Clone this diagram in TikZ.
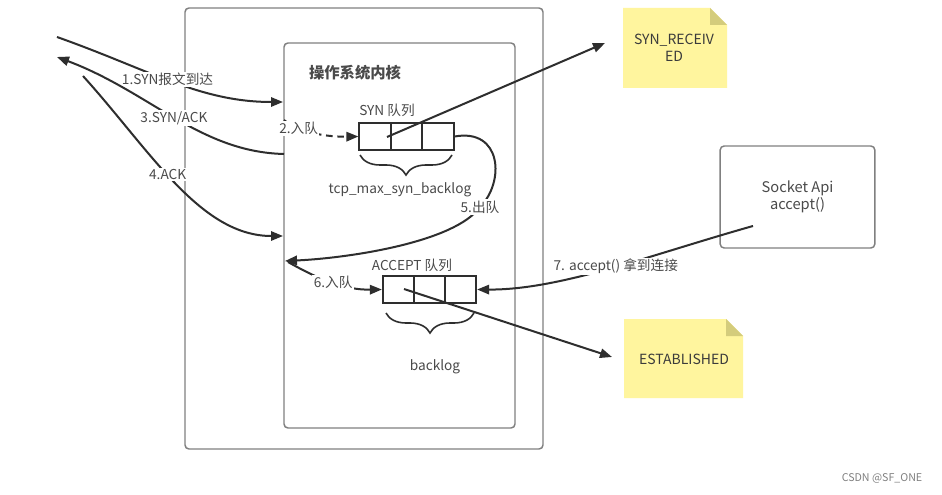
\documentclass[tikz,border=0pt]{standalone}
\usepackage{fontspec}
\setmainfont{Noto Sans CJK SC}
\usetikzlibrary{arrows.meta,decorations.pathreplacing}
\definecolor{ln}{HTML}{2E2E2E}
\definecolor{frm}{HTML}{808080}
\definecolor{txt}{HTML}{4A4A4A}
\definecolor{note}{HTML}{FFF59E}
\definecolor{fold}{HTML}{D4CC7C}
\tikzset{
  conn/.style={draw=ln, line width=1.5pt},
  arr/.style={conn, -{Triangle[length=9pt,width=7pt]}},
  lbl/.style={fill=white, inner sep=1pt, text=txt, font=\fontsize{10.25}{11}\selectfont},
  plain/.style={text=txt, font=\fontsize{10.25}{11}\selectfont, inner sep=0pt},
  frame/.style={draw=frm, line width=1.1pt, rounded corners=3pt},
  cell/.style={draw=ln, line width=1.5pt, minimum width=23.4pt, minimum height=20.25pt, inner sep=0pt},
  qbrace/.style={draw=ln, line width=1.2pt, decorate, decoration={brace, mirror, amplitude=15pt}},
  notebody/.style={fill=note},
  notetext/.style={text=txt!80!black, font=\fontsize{10.5}{12.5}\selectfont, align=center},
}
\begin{document}
\begin{tikzpicture}[x=0.75pt,y=-0.75pt]
\useasboundingbox[fill=white] (0,0) rectangle (942,495);

% containers
\draw[frame] (185,8) rectangle (543,449);
\draw[frame] (284,43) rectangle (515,428);
\node[text=txt, font=\fontsize{11.5}{13}\selectfont\bfseries] (title) at (355,73) {操作系统内核};

% SYN queue
\node[plain] (synlbl) at (387,110) {SYN 队列};
\node[cell] (s1) at (375,136.5) {};
\node[cell] (s2) at (406.5,136.5) {};
\node[cell] (s3) at (438,136.5) {};
\draw[qbrace] (360,155) -- (452,155);
\node[plain] (synbk) at (400,190) {tcp\_max\_syn\_backlog};

% ACCEPT queue
\node[plain] (acclbl) at (412,265) {ACCEPT 队列};
\node[cell] (a1) at (398.5,289.5) {};
\node[cell] (a2) at (429.5,289.5) {};
\node[cell] (a3) at (460.5,289.5) {};
\draw[qbrace] (386,313) -- (474,313);
\node[plain] (accbk) at (435,367) {backlog};

% socket api box
\node[draw=frm, line width=1.1pt, rounded corners=3pt, minimum width=116pt, minimum height=76.5pt,
      text=txt, font=\fontsize{11}{12.5}\selectfont, align=center] (sock) at (797.5,197) {Socket Api\\accept()};

% notes
\fill[notebody] (623,8) -- (710,8) -- (727,25) -- (727,88) -- (623,88) -- cycle;
\fill[fold] (710,8) -- (710,25) -- (727,25) -- cycle;
\node[notetext] (synrecv) at (674,48) {SYN\_RECEIV\\ED};
\fill[notebody] (624,319) -- (726,319) -- (743,336) -- (743,398) -- (624,398) -- cycle;
\fill[fold] (726,319) -- (726,336) -- (743,336) -- cycle;
\node[notetext] (estab) at (684,359) {ESTABLISHED};

% coordinates
\coordinate (cl1) at (57,37);
\coordinate (cl3) at (57,57);
\coordinate (cl4) at (83,76);
\coordinate (k1) at (283,102);
\coordinate (k2) at (284,120);
\coordinate (k3) at (284,154);
\coordinate (k4) at (283,236);
\coordinate (k5) at (285,261);
\coordinate (k6) at (288,262);
\coordinate (s1p) at (387,137);
\coordinate (a1p) at (404,289);
\coordinate (sockp) at (753,226);
\coordinate (nrecv) at (605,43);
\coordinate (nest) at (612,357);

% left side connectors
\draw[arr] (cl1) .. controls (150,70) and (200,102) .. node[lbl, pos=0.47] {1.SYN报文到达} (k1);
\draw[arr] (k3) .. controls (200,152) and (150,92) .. node[lbl, pos=0.5] {3.SYN/ACK} (cl3);
\draw[arr] (cl4) .. controls (150,150) and (200,236) .. node[lbl, pos=0.45] {4.ACK} (k4);

% 2. enqueue (dashed)
\draw[arr, dash pattern=on 5pt off 3.5pt] (k2) .. controls (298,132) and (325,137) .. node[lbl, pos=0.28] {2.入队} (s1.west);

% 5. dequeue
\draw[arr] (s3.east) .. controls (502,128) and (505,182) .. (480,207) node[lbl] {5.出队}
   .. controls (455,242) and (350,258) .. (k5);

% 6. enqueue to accept queue
\draw[arr] (k6) .. controls (320,280) and (345,290) .. node[lbl, pos=0.5] {6.入队} (a1.west);

% state lines
\draw[arr] (s1p) -- (nrecv);
\draw[arr] (a1p) -- (nest);

% 7. accept
\draw[arr] (sockp) .. controls (650,255) and (560,290) .. node[lbl, pos=0.47] {7. accept() 拿到连接} (a3.east);

% watermark
\node[text=gray, font=\fontsize{8}{9}\selectfont] (wm) at (882,478) {CSDN @SF\_ONE};
\end{tikzpicture}
\end{document}
